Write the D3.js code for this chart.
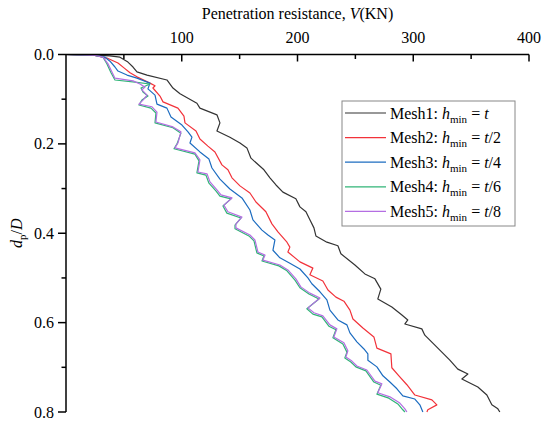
<!DOCTYPE html>
<html>
<head>
<meta charset="utf-8">
<script src="https://cdn.jsdelivr.net/npm/d3@7"></script>
<style>
  body { margin: 0; background: #fff; }
  svg { font-family: "Liberation Serif", "Times New Roman", serif; }
</style>
</head>
<body>
<svg id="chart" width="550" height="427"></svg>
<script>
// [V (KN), dp/D]
const mesh1 = [[0,0],[20.7,0.001],[38,0.003],[46.6,0.006],[53.5,0.017],[57.9,0.028],[61.3,0.039],[70,0.046],[87.2,0.057],[92.4,0.075],[98.5,0.088],[113.1,0.109],[115.7,0.12],[130.4,0.135],[133,0.153],[130.4,0.171],[141.6,0.185],[150.3,0.198],[156.3,0.209],[159.8,0.232],[171,0.258],[176.2,0.276],[181.4,0.292],[187.4,0.308],[198.6,0.323],[202.1,0.341],[207.3,0.352],[210.7,0.37],[214.2,0.388],[215.9,0.406],[225.4,0.42],[234.9,0.428],[237.5,0.446],[249.6,0.471],[258.2,0.491],[266.9,0.502],[272,0.525],[269.4,0.547],[281.5,0.565],[290.2,0.583],[295.3,0.594],[292.8,0.603],[307.4,0.614],[310,0.628],[317.8,0.648],[324.7,0.666],[331.6,0.684],[338.5,0.704],[347.2,0.715],[342,0.726],[355.8,0.744],[363.6,0.762],[367.9,0.784],[373.1,0.793],[374.8,0.8]];
const mesh2 = [[0,0],[25,0.002],[35.4,0.008],[44.9,0.019],[50.1,0.03],[55.3,0.041],[61.3,0.05],[72.5,0.064],[76.9,0.07],[75.1,0.075],[81.2,0.093],[83.8,0.106],[96.7,0.12],[101.9,0.138],[102.8,0.153],[112.3,0.171],[115.7,0.189],[122.6,0.205],[128.7,0.218],[134.7,0.247],[139.9,0.258],[143.4,0.276],[150.3,0.294],[158.9,0.31],[164.1,0.33],[172.7,0.352],[177.9,0.379],[183.1,0.397],[190.9,0.42],[193.4,0.431],[191.7,0.442],[202.1,0.464],[213.3,0.478],[210.7,0.493],[221.9,0.507],[226.3,0.527],[233.2,0.543],[240.1,0.552],[245.3,0.572],[247.9,0.592],[256.5,0.612],[266,0.632],[268.6,0.657],[280.7,0.67],[281.5,0.701],[287.6,0.719],[294.5,0.739],[301.4,0.762],[316.1,0.773],[320.4,0.784],[312.6,0.795],[311.8,0.8]];
const mesh3 = [[0,0],[25,0.002],[33.7,0.006],[38,0.015],[42.3,0.028],[44.9,0.037],[52.7,0.046],[61.3,0.053],[72.5,0.064],[70.8,0.077],[76.9,0.091],[78.6,0.111],[87.2,0.12],[90.7,0.14],[100.2,0.158],[105.4,0.173],[108.8,0.185],[107.1,0.198],[115.7,0.218],[123.5,0.234],[126.1,0.254],[133,0.279],[141.6,0.301],[152,0.321],[158.9,0.348],[161.5,0.37],[169.3,0.393],[174.5,0.404],[180.5,0.415],[178.8,0.438],[184.8,0.455],[193.4,0.467],[202.1,0.48],[209,0.5],[212.4,0.513],[219.4,0.531],[225.4,0.549],[228,0.572],[234.9,0.594],[242.7,0.605],[245.3,0.623],[251.3,0.643],[257.4,0.659],[260.8,0.67],[260.8,0.684],[268.6,0.699],[273.8,0.719],[279.8,0.733],[285.9,0.748],[291,0.764],[301.4,0.771],[305.7,0.784],[308.3,0.8]];
const mesh4 = [[0,0],[25,0.002],[32,0.006],[35.4,0.021],[38.9,0.041],[42.3,0.057],[59.6,0.062],[72.5,0.066],[64.8,0.075],[66.5,0.084],[70.8,0.093],[65.6,0.102],[63,0.113],[73.4,0.12],[77.7,0.131],[76.9,0.153],[92.4,0.164],[99.3,0.176],[95.9,0.2],[93.3,0.211],[111.4,0.223],[114.9,0.238],[113.1,0.265],[120.9,0.27],[123.5,0.288],[129.5,0.305],[133,0.317],[142.5,0.323],[135.6,0.339],[139,0.355],[151.1,0.366],[146,0.382],[146,0.39],[158,0.406],[162.4,0.417],[164.9,0.444],[171,0.451],[169.3,0.462],[183.9,0.473],[190.9,0.484],[197.8,0.505],[202.1,0.522],[209.9,0.536],[218.5,0.547],[208.1,0.569],[213.3,0.581],[221.1,0.587],[227.1,0.608],[233.2,0.616],[230.6,0.634],[239.2,0.648],[242.7,0.666],[240.9,0.679],[246.1,0.688],[250.4,0.699],[259.1,0.708],[266,0.733],[272,0.74],[268.6,0.76],[278.9,0.769],[286.7,0.782],[291,0.795],[292.8,0.8]];
const mesh5 = [[0,0],[25,0.002],[32,0.006],[36.3,0.021],[39.7,0.039],[42.3,0.053],[57.9,0.059],[63.9,0.066],[68.2,0.073],[65.6,0.079],[70,0.091],[66.5,0.102],[63,0.111],[74.3,0.117],[78.6,0.129],[77.7,0.151],[92.4,0.162],[99.3,0.173],[96.7,0.198],[94.1,0.209],[111.4,0.22],[115.7,0.236],[114,0.263],[121.8,0.267],[124.4,0.285],[130.4,0.303],[133.9,0.314],[143.4,0.321],[136.4,0.337],[139.9,0.352],[152,0.364],[146.8,0.379],[146.8,0.388],[158.9,0.404],[163.2,0.415],[165.8,0.442],[171.9,0.449],[170.1,0.46],[184.8,0.471],[191.7,0.482],[198.6,0.502],[202.9,0.52],[210.7,0.534],[219.4,0.545],[209,0.567],[214.2,0.578],[221.9,0.585],[228,0.605],[234,0.614],[231.4,0.632],[240.1,0.645],[243.5,0.663],[241.8,0.677],[247,0.686],[251.3,0.697],[259.9,0.706],[266.9,0.731],[272.9,0.737],[269.4,0.757],[279.8,0.766],[288.4,0.78],[292.8,0.793],[294.5,0.8]];

const xMajor = [100, 200, 300, 400];
const xMinor = [50, 150, 250, 350];
const yMajor = [0, 0.2, 0.4, 0.6, 0.8];
const yMinor = [0.1, 0.3, 0.5, 0.7];
const legendDivisors = ['', '/2', '/4', '/6', '/8'];

const series = [
    {name: 'Mesh1', data: mesh1, color: '#333333'},
    {name: 'Mesh2', data: mesh2, color: '#f2323a'},
    {name: 'Mesh3', data: mesh3, color: '#1c6cc0'},
    {name: 'Mesh4', data: mesh4, color: '#30b477'},
    {name: 'Mesh5', data: mesh5, color: '#b46ee2'}
];

const svg = d3.select('#chart');
const margin = {top: 54.5, right: 21, bottom: 15, left: 66};
const width = 550 - margin.left - margin.right;
const height = 427 - margin.top - margin.bottom;

const x = d3.scaleLinear().domain([0, 400]).range([0, width]);
const y = d3.scaleLinear().domain([0, 0.8]).range([0, height]);

const g = svg.append('g').attr('transform', `translate(${margin.left},${margin.top})`);

// curves
const line = d3.line().x(d => x(d[0])).y(d => y(d[1]));
series.forEach(s => {
    g.append('path')
        .datum(s.data)
        .attr('fill', 'none')
        .attr('stroke', s.color)
        .attr('stroke-width', 1.2)
        .attr('stroke-linejoin', 'round')
        .attr('d', line);
});

// top axis, ticks pointing down into the plot
const xAxis = g.append('g');
xAxis.append('line').attr('x1', 0).attr('x2', width).attr('stroke', '#000').attr('stroke-width', 1.5);
xAxis.selectAll('.xmaj').data(xMajor).enter().append('line')
    .attr('x1', d => x(d)).attr('x2', d => x(d)).attr('y1', 0).attr('y2', 7)
    .attr('stroke', '#000').attr('stroke-width', 1.5);
xAxis.selectAll('.xmin').data(xMinor).enter().append('line')
    .attr('x1', d => x(d)).attr('x2', d => x(d)).attr('y1', 0).attr('y2', 4.5)
    .attr('stroke', '#000').attr('stroke-width', 1.5);
xAxis.selectAll('.xlab').data(xMajor).enter().append('text')
    .attr('x', d => x(d)).attr('y', -12)
    .attr('text-anchor', 'middle')
    .attr('font-size', '16px')
    .text(d => d);

// left axis, ticks pointing out
const yAxis = g.append('g');
yAxis.append('line').attr('y1', 0).attr('y2', height).attr('stroke', '#000').attr('stroke-width', 1.5);
yAxis.selectAll('.ymaj').data(yMajor).enter().append('line')
    .attr('y1', d => y(d)).attr('y2', d => y(d)).attr('x1', -8).attr('x2', 0)
    .attr('stroke', '#000').attr('stroke-width', 1.5);
yAxis.selectAll('.ymin').data(yMinor).enter().append('line')
    .attr('y1', d => y(d)).attr('y2', d => y(d)).attr('x1', -4.5).attr('x2', 0)
    .attr('stroke', '#000').attr('stroke-width', 1.5);
yAxis.selectAll('.ylab').data(yMajor).enter().append('text')
    .attr('x', -12).attr('y', d => y(d))
    .attr('dy', '0.35em')
    .attr('text-anchor', 'end')
    .attr('font-size', '16px')
    .text(d => d.toFixed(1));

// axis titles
const title = svg.append('text')
    .attr('x', margin.left + width / 2).attr('y', 19)
    .attr('text-anchor', 'middle')
    .attr('font-size', '16px');
title.append('tspan').text('Penetration resistance, ');
title.append('tspan').attr('font-style', 'italic').text('V');
title.append('tspan').text('(KN)');

const ylab = svg.append('text')
    .attr('transform', `translate(22,${margin.top + height / 2}) rotate(-90)`)
    .attr('text-anchor', 'middle')
    .attr('font-size', '16px');
ylab.append('tspan').attr('font-style', 'italic').text('d');
ylab.append('tspan').attr('font-size', '11px').attr('dy', 4).text('p');
ylab.append('tspan').attr('dy', -4).text('/');
ylab.append('tspan').attr('font-style', 'italic').text('D');

// legend
const legend = svg.append('g').attr('transform', 'translate(342,101)');
legend.append('rect')
    .attr('width', 173).attr('height', 125)
    .attr('fill', '#fff').attr('stroke', '#888').attr('stroke-width', 1);
series.forEach((s, i) => {
    const row = legend.append('g').attr('transform', `translate(0,${12 + i * 24.6})`);
    row.append('line').attr('x1', 3).attr('x2', 44)
        .attr('stroke', s.color).attr('stroke-width', 1.2);
    const t = row.append('text').attr('x', 48).attr('dy', '0.35em').attr('font-size', '16px');
    t.append('tspan').text(`${s.name}: `);
    t.append('tspan').attr('font-style', 'italic').text('h');
    t.append('tspan').attr('font-size', '11px').attr('dy', 4).text('min');
    t.append('tspan').attr('dy', -4).text(' = ');
    t.append('tspan').attr('font-style', 'italic').text('t');
    t.append('tspan').text(legendDivisors[i]);
});
</script>
</body>
</html>
